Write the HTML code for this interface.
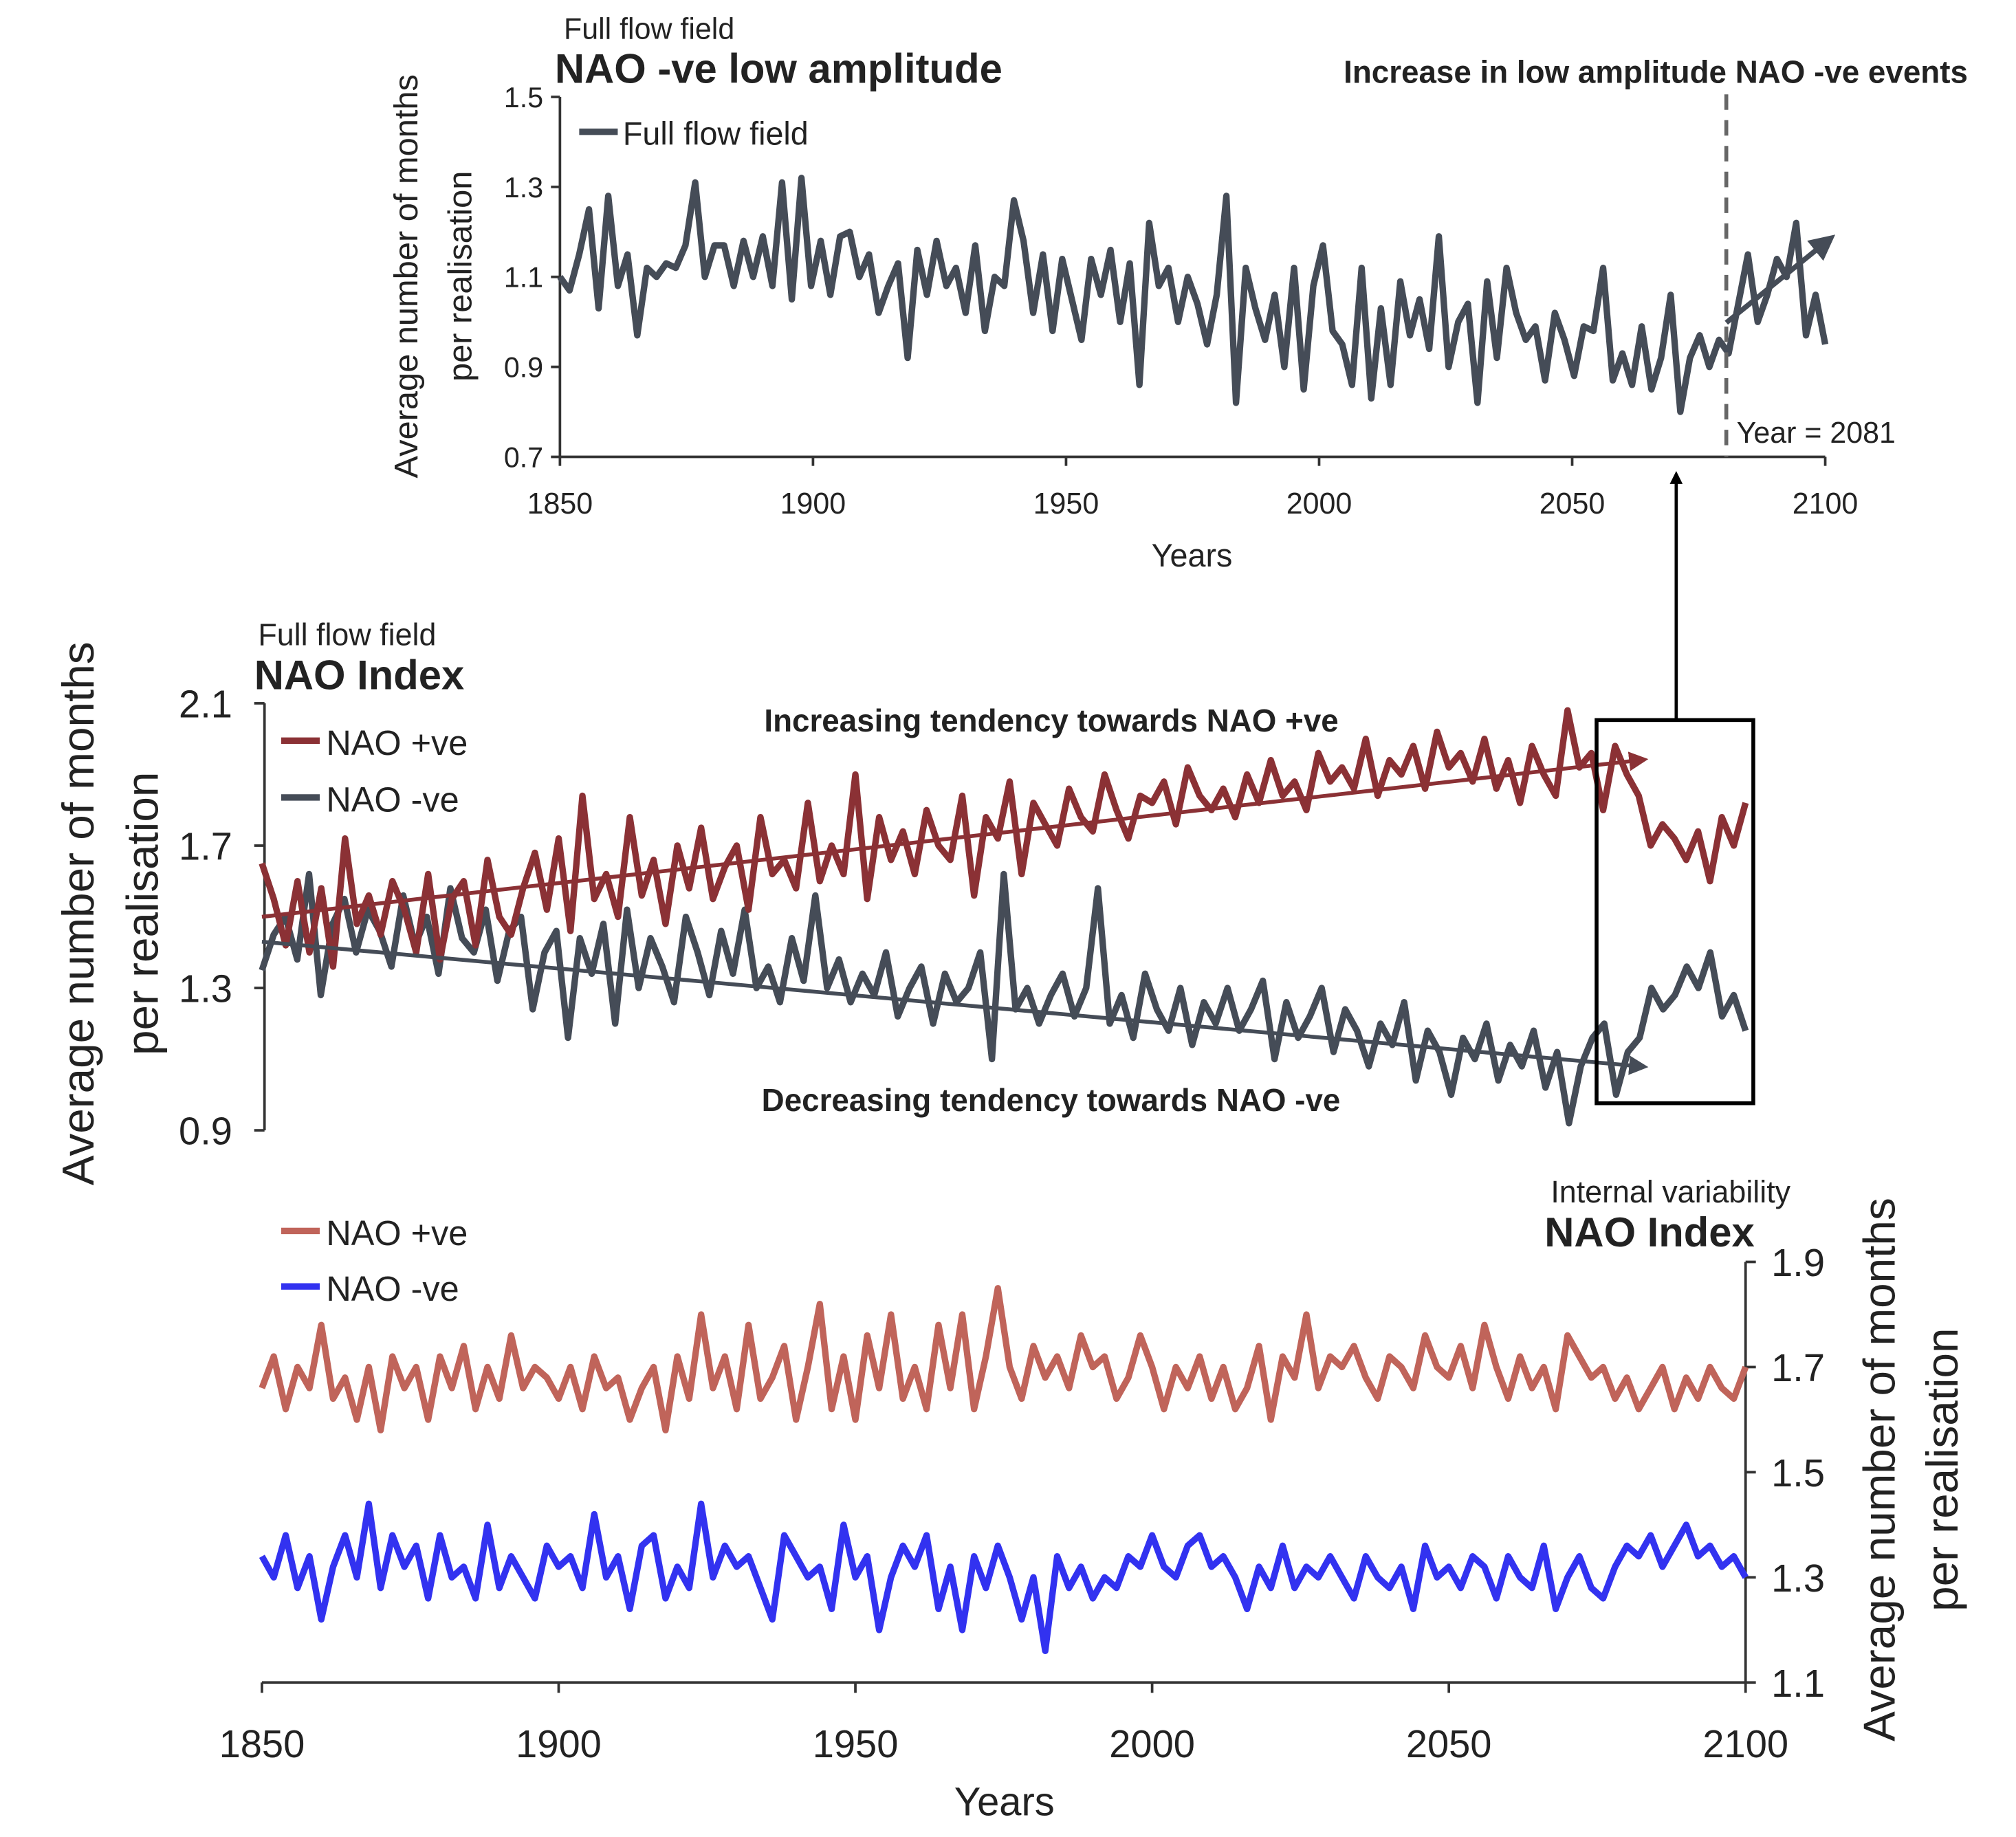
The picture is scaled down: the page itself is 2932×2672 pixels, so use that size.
<!DOCTYPE html>
<html><head><meta charset="utf-8"><style>
html,body{margin:0;padding:0;background:#fff}
svg{display:block}
text{font-family:"Liberation Sans",sans-serif;fill:#222}
</style></head><body>
<svg id="chart" width="2932" height="2672" viewBox="0 0 1560 1421.6" preserveAspectRatio="none" xmlns="http://www.w3.org/2000/svg">
<defs>
<marker id="ag" viewBox="0 0 10 10" refX="5" refY="5" markerWidth="5" markerHeight="5" orient="auto"><path d="M0,0L10,5L0,10z" fill="#454c57"/></marker>
<marker id="ar" viewBox="0 0 10 10" refX="5" refY="5" markerWidth="5" markerHeight="5" orient="auto"><path d="M0,0L10,5L0,10z" fill="#8b3135"/></marker>
<marker id="ak" viewBox="0 0 10 10" refX="5" refY="5" markerWidth="4" markerHeight="4" orient="auto"><path d="M0,0L10,5L0,10z" fill="#000"/></marker>
</defs>
<g id="g" transform="matrix(0.994,0,0,0.9984,0.9,-1.88)"></g>
</svg>
<script>
const startYear=1850, endYear=2100;
const xTicks=[1850,1900,1950,2000,2050,2100];
const topTicks=[0.7,0.9,1.1,1.3,1.5];
const midTicks=[0.9,1.3,1.7,2.1];
const botTicks=[1.1,1.3,1.5,1.7,1.9];
const topSeries=[1.10,1.07,1.15,1.25,1.03,1.28,1.08,1.15,0.97,1.12,1.10,1.13,1.12,1.17,1.31,1.10,1.17,1.17,1.08,1.18,1.10,1.19,1.08,1.31,1.05,1.32,1.08,1.18,1.06,1.19,1.20,1.10,1.15,1.02,1.08,1.13,0.92,1.16,1.06,1.18,1.08,1.12,1.02,1.17,0.98,1.10,1.08,1.27,1.18,1.02,1.15,0.98,1.14,1.05,0.96,1.14,1.06,1.16,1.00,1.13,0.86,1.22,1.08,1.12,1.00,1.10,1.04,0.95,1.06,1.28,0.82,1.12,1.03,0.96,1.06,0.90,1.12,0.85,1.08,1.17,0.98,0.95,0.86,1.12,0.83,1.03,0.86,1.09,0.97,1.05,0.94,1.19,0.90,1.00,1.04,0.82,1.09,0.92,1.12,1.02,0.96,0.99,0.87,1.02,0.96,0.88,0.99,0.98,1.12,0.87,0.93,0.86,0.99,0.85,0.92,1.06,0.80,0.92,0.97,0.90,0.96,0.93,1.04,1.15,1.00,1.06,1.14,1.10,1.22,0.97,1.06,0.95];
const midPos=[1.65,1.55,1.42,1.60,1.40,1.58,1.36,1.72,1.48,1.56,1.45,1.60,1.52,1.40,1.62,1.38,1.55,1.60,1.42,1.66,1.50,1.45,1.58,1.68,1.52,1.72,1.46,1.84,1.55,1.62,1.50,1.78,1.56,1.66,1.48,1.70,1.58,1.75,1.55,1.64,1.70,1.52,1.78,1.62,1.66,1.58,1.82,1.60,1.70,1.62,1.90,1.55,1.78,1.66,1.74,1.62,1.80,1.70,1.66,1.84,1.56,1.78,1.72,1.88,1.62,1.82,1.76,1.70,1.86,1.78,1.74,1.90,1.80,1.72,1.84,1.82,1.88,1.76,1.92,1.84,1.80,1.86,1.78,1.90,1.82,1.94,1.84,1.88,1.80,1.96,1.88,1.92,1.86,2.00,1.84,1.94,1.90,1.98,1.86,2.02,1.92,1.96,1.88,2.00,1.86,1.94,1.82,1.98,1.90,1.84,2.08,1.92,1.96,1.80,1.98,1.90,1.84,1.70,1.76,1.72,1.66,1.74,1.60,1.78,1.70,1.82];
const midNeg=[1.35,1.45,1.50,1.38,1.62,1.28,1.48,1.55,1.40,1.52,1.46,1.36,1.56,1.42,1.50,1.34,1.58,1.44,1.40,1.52,1.32,1.46,1.50,1.24,1.40,1.46,1.16,1.44,1.34,1.48,1.20,1.52,1.30,1.44,1.36,1.26,1.50,1.40,1.28,1.46,1.34,1.52,1.30,1.36,1.26,1.44,1.32,1.56,1.30,1.38,1.26,1.34,1.28,1.40,1.22,1.30,1.36,1.20,1.34,1.26,1.30,1.40,1.10,1.62,1.24,1.30,1.20,1.28,1.34,1.22,1.30,1.58,1.20,1.28,1.16,1.34,1.24,1.18,1.30,1.14,1.26,1.20,1.30,1.18,1.24,1.32,1.10,1.26,1.16,1.22,1.30,1.12,1.24,1.18,1.08,1.20,1.14,1.26,1.04,1.18,1.12,1.00,1.16,1.10,1.20,1.04,1.14,1.08,1.18,1.02,1.12,0.92,1.08,1.16,1.20,1.00,1.12,1.16,1.30,1.24,1.28,1.36,1.30,1.40,1.22,1.28,1.18];
const botPos=[1.66,1.72,1.62,1.70,1.66,1.78,1.64,1.68,1.60,1.70,1.58,1.72,1.66,1.70,1.60,1.72,1.66,1.74,1.62,1.70,1.64,1.76,1.66,1.70,1.68,1.64,1.70,1.62,1.72,1.66,1.68,1.60,1.66,1.70,1.58,1.72,1.64,1.80,1.66,1.72,1.62,1.78,1.64,1.68,1.74,1.60,1.70,1.82,1.62,1.72,1.60,1.76,1.66,1.80,1.64,1.70,1.62,1.78,1.66,1.80,1.62,1.72,1.85,1.70,1.64,1.74,1.68,1.72,1.66,1.76,1.70,1.72,1.64,1.68,1.76,1.70,1.62,1.70,1.66,1.72,1.64,1.70,1.62,1.66,1.74,1.60,1.72,1.68,1.80,1.66,1.72,1.70,1.74,1.68,1.64,1.72,1.70,1.66,1.76,1.70,1.68,1.74,1.66,1.78,1.70,1.64,1.72,1.66,1.70,1.62,1.76,1.72,1.68,1.70,1.64,1.68,1.62,1.66,1.70,1.62,1.68,1.64,1.70,1.66,1.64,1.70];
const botNeg=[1.34,1.30,1.38,1.28,1.34,1.22,1.32,1.38,1.30,1.44,1.28,1.38,1.32,1.36,1.26,1.38,1.30,1.32,1.26,1.40,1.28,1.34,1.30,1.26,1.36,1.32,1.34,1.28,1.42,1.30,1.34,1.24,1.36,1.38,1.26,1.32,1.28,1.44,1.30,1.36,1.32,1.34,1.28,1.22,1.38,1.34,1.30,1.32,1.24,1.40,1.30,1.34,1.20,1.30,1.36,1.32,1.38,1.24,1.32,1.20,1.34,1.28,1.36,1.30,1.22,1.30,1.16,1.34,1.28,1.32,1.26,1.30,1.28,1.34,1.32,1.38,1.32,1.30,1.36,1.38,1.32,1.34,1.30,1.24,1.32,1.28,1.36,1.28,1.32,1.30,1.34,1.30,1.26,1.34,1.30,1.28,1.32,1.24,1.36,1.30,1.32,1.28,1.34,1.32,1.26,1.34,1.30,1.28,1.36,1.24,1.30,1.34,1.28,1.26,1.32,1.36,1.34,1.38,1.32,1.36,1.40,1.34,1.36,1.32,1.34,1.30];
const midTrendPos=[1.50,1.94], midTrendNeg=[1.43,1.08];

const NS="http://www.w3.org/2000/svg";
const G=document.getElementById('g');
function el(tag,attrs,parent){const e=document.createElementNS(NS,tag);for(const k in attrs)e.setAttribute(k,attrs[k]);(parent||G).appendChild(e);return e;}
function txt(s,x,y,size,opts,name){opts=opts||{};const t=el('text',{x:x,y:y,'font-size':size,'text-anchor':opts.anchor||'start','font-weight':opts.bold?'bold':'normal'});if(opts.rot)t.setAttribute('transform','rotate(-90 '+x+' '+y+')');t.textContent=s;


return t;}
function lin(d0,d1,r0,r1){return v=>r0+(v-d0)/(d1-d0)*(r1-r0);}
function series(arr,xs,ys,color,w,name){const n=arr.length;const pts=arr.map((v,i)=>xs(startYear+i*(endYear-startYear)/(n-1)).toFixed(1)+','+ys(v).toFixed(1)).join(' ');const p=el('polyline',{points:pts,fill:'none',stroke:color,'stroke-width':w,'stroke-linejoin':'round'});


}
function line(x1,y1,x2,y2,c,w,extra,name){const l=el('line',Object.assign({x1,y1,x2,y2,stroke:c,'stroke-width':w},extra||{}));


return l;}
const GREY='#454c57',RED='#8b3135',LRED='#c0645a',BLUE='#3232f0',AX='#333';

// TOP
const tx=lin(startYear,endYear,435,1420), ty=lin(0.7,1.5,356,77);
line(435,77,435,356,AX,2,null,'top-y-axis');line(435,356,1420,356,AX,2,null,'top-x-axis');
topTicks.forEach(v=>{line(428,ty(v),435,ty(v),AX,2,null,'top-y-tick');txt(v.toFixed(1),422,ty(v)+8,22,{anchor:'end'},'top-y-tick-label');});
xTicks.forEach(v=>{line(tx(v),356,tx(v),363,AX,2,null,'top-x-tick');txt(String(v),tx(v),400,23,{anchor:'middle'},'top-x-tick-label');});
txt('Years',927,441,25,{anchor:'middle'},'top-x-axis-title');
txt('Average number of months',324,216,26,{anchor:'middle',rot:1},'top-y-axis-title');
txt('per realisation',366,216,26,{anchor:'middle',rot:1},'top-y-axis-title-2');
txt('Full flow field',438,32,23,{},'top-subtitle');
txt('NAO -ve low amplitude',431,66,32,{bold:1},'top-title');
line(450,104,480,104,GREY,5,null,'top-legend-swatch');txt('Full flow field',484,114,25,{},'top-legend-label');
series(topSeries,tx,ty,GREY,5,'top-series-full-flow');
line(1343,75,1343,356,'#666',3,{'stroke-dasharray':'12,8'},'year-2081-marker');
txt('Year = 2081',1351,345,23,{},'year-2081-label');
txt('Increase in low amplitude NAO -ve events',1531,66,24.5,{anchor:'end',bold:1},'top-annotation');
line(1343,252,1420,190,GREY,4,{'marker-end':'url(#ag)'},'top-trend-arrow');

// MIDDLE
const mx=lin(startYear,endYear,203,1358), my=lin(0.9,2.1,878,547);
line(205,547,205,878,AX,2,null,'mid-y-axis');
midTicks.forEach(v=>{line(197,my(v),205,my(v),AX,2,null,'mid-y-tick');txt(v.toFixed(1),180,my(v)+11,30,{anchor:'end'},'mid-y-tick-label');});
txt('Average number of months',72,710,35,{anchor:'middle',rot:1},'mid-y-axis-title');
txt('per realisation',122,710,35,{anchor:'middle',rot:1},'mid-y-axis-title-2');
txt('Full flow field',200,502,24,{},'mid-subtitle');
txt('NAO Index',197,536,32,{bold:1},'mid-title');
line(218,576,248,576,RED,5,null,'mid-legend-pos-swatch');txt('NAO +ve',253,587,27,{},'mid-legend-pos-label');
line(218,620,248,620,GREY,5,null,'mid-legend-neg-swatch');txt('NAO -ve',253,631,27,{},'mid-legend-neg-label');
series(midNeg,mx,my,GREY,5,'mid-series-nao-neg');
series(midPos,mx,my,RED,5,'mid-series-nao-pos');
line(mx(startYear),my(midTrendPos[0]),mx(2082),my(midTrendPos[1]),RED,3,{'marker-end':'url(#ar)'},'mid-trend-pos');
line(mx(startYear),my(midTrendNeg[0]),mx(2082),my(midTrendNeg[1]),GREY,3,{'marker-end':'url(#ag)'},'mid-trend-neg');
txt('Increasing tendency towards NAO +ve',594,569,24.5,{bold:1},'mid-annotation-pos');
txt('Decreasing tendency towards NAO -ve',592,863,24.5,{bold:1},'mid-annotation-neg');
const box=el('rect',{x:1242,y:560,width:122,height:297,fill:'none',stroke:'#000','stroke-width':3});


line(1304,560,1304,372,'#000',2.5,{'marker-end':'url(#ak)'},'link-arrow');

// BOTTOM
const bx=lin(startYear,endYear,203,1358), by=lin(1.1,1.9,1306,980);
line(203,1306,1358,1306,AX,2,null,'bot-x-axis');line(1358,980,1358,1306,AX,2,null,'bot-y-axis');
botTicks.forEach(v=>{line(1358,by(v),1366,by(v),AX,2,null,'bot-y-tick');txt(v.toFixed(1),1378,by(v)+11,30,{},'bot-y-tick-label');});
xTicks.forEach(v=>{line(bx(v),1306,bx(v),1314,AX,2,null,'bot-x-tick');txt(String(v),bx(v),1364,30,{anchor:'middle'},'bot-x-tick-label');});
txt('Years',781,1409,31,{anchor:'middle'},'bot-x-axis-title');
txt('Average number of months',1474,1141,35,{anchor:'middle',rot:1},'bot-y-axis-title');
txt('per realisation',1523,1141,35,{anchor:'middle',rot:1},'bot-y-axis-title-2');
txt('Internal variability',1393,934,24,{anchor:'end'},'bot-subtitle');
txt('NAO Index',1365,968,32,{anchor:'end',bold:1},'bot-title');
line(218,956,248,956,LRED,5,null,'bot-legend-pos-swatch');txt('NAO +ve',253,967,27,{},'bot-legend-pos-label');
line(218,999,248,999,BLUE,5,null,'bot-legend-neg-swatch');txt('NAO -ve',253,1010,27,{},'bot-legend-neg-label');
series(botPos,bx,by,LRED,5,'bot-series-nao-pos');
series(botNeg,bx,by,BLUE,5,'bot-series-nao-neg');
</script>
</body></html>
